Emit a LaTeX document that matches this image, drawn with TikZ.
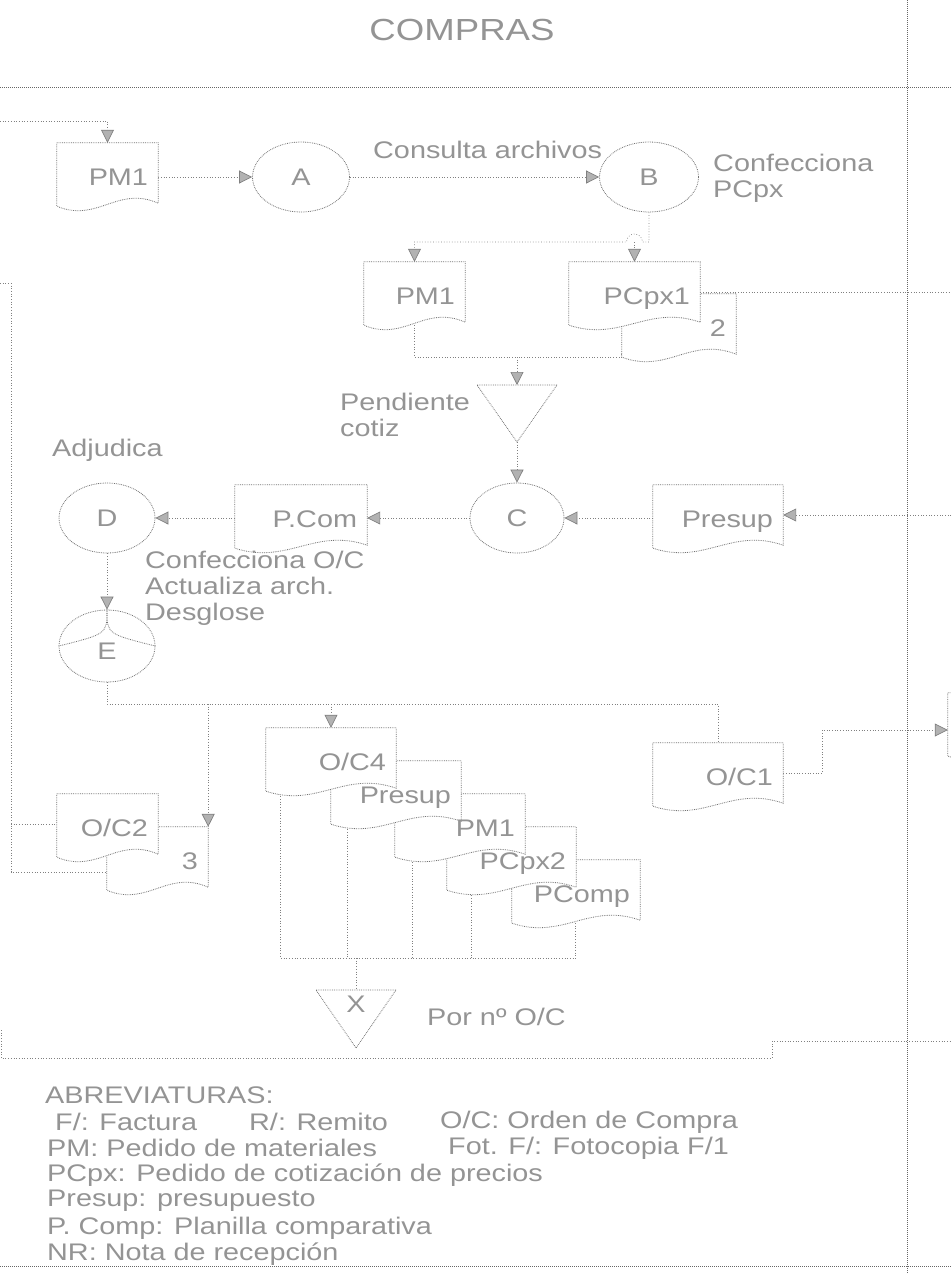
\documentclass[tikz,border=0pt]{standalone}
\usepackage{fontspec}
\setmainfont[FakeStretch=1.2]{Liberation Sans}
\usetikzlibrary{shapes.geometric,arrows.meta,calc}
\pgfdeclarelayer{back}
\pgfdeclarelayer{front}
\pgfsetlayers{back,main,front}
\colorlet{ink}{black!42}
\colorlet{wire}{black!50}
\newcommand\lblfont{\fontsize{24}{26}\selectfont}
\newcommand\sheet[1]{%
  \draw[sheetline] (#1.north west) -- (#1.north east) -- (#1.south east)
    .. controls ($(#1.south east)!0.4!(#1.south west)+(0,-18)$)
    and ($(#1.south east)!0.6!(#1.south west)+(0,20)$) .. ($(#1.south west)+(0,3)$) -- cycle;}

\begin{document}
\begin{tikzpicture}[x=1pt, y=-1pt,
	every node/.style={ text=ink, font=\lblfont },
	doc/.style={ rectangle, inner xsep=10pt, inner ysep=0pt, minimum height=60pt, text width=#1, align=right, text height=25pt, text depth=0pt },
	proc/.style={ ellipse, draw=black!55, densely dotted, line width=0.8pt, fill=white, inner sep=0pt, minimum width=96pt, minimum height=70pt },
	sheetline/.style={ draw=black!55, densely dotted, line width=0.8pt, fill=white },
	link/.style={ draw=wire, dotted, line width=0.7pt },
	arr/.style={ -{Triangle[length=13pt, width=13pt, fill=black!30]} },
	frame/.style={ draw=black!60, densely dotted, line width=1pt },
	lbl/.style={ anchor=west, inner sep=0pt }
]
\useasboundingbox (0,0) rectangle (951,1274);

\begin{pgfonlayer}{front}
% documents
\node[doc=81pt] at (107.5,173) (pm1a) {PM1};
\node[doc=81pt] at (414.5,292) (pm1b) {PM1};
\node[doc=111pt] at (634.5,292) (pcpx1) {PCpx1};
\node[doc=94pt] at (679,324) (cp2) {2};
\node[doc=112pt] at (301,515) (pcom) {P.Com};
\node[doc=110pt] at (718,515) (presup) {Presup};
\node[doc=110pt] at (718,773) (oc1) {O/C1};
\node[doc=81pt] at (107.5,824) (oc2) {O/C2};
\node[doc=81pt] at (157.5,857) (cp3) {3};
\node[doc=110pt] at (331,758) (oc4) {O/C4};
\node[doc=110pt] at (396,791) (cs1) {Presup};
\node[doc=110pt] at (460,824) (cs2) {PM1};
\node[doc=109pt] at (511.5,857) (cs3) {PCpx2};
\node[doc=108pt] at (576,890) (cs4) {PComp};
\node[doc=110pt] at (1013,723) (rdoc) {};

% operations
\node[proc, minimum width=97pt] at (301,177) (A) {A};
\node[proc, minimum width=99pt] at (649,177) (B) {B};
\node[proc, minimum width=94pt] at (517,518) (C) {C};
\node[proc] at (107,518) (D) {D};
\node[proc, minimum height=72pt] at (107,646) (E) {};
\draw[sheetline, fill=none] (E.north) .. controls ($(E.center)+(0,-12)$) .. (E.west);
\draw[sheetline, fill=none] (E.north) .. controls ($(E.center)+(0,-12)$) .. (E.east);
\node at (107,651) (Elbl) {E};

% texts
\node[font=\fontsize{30.5}{34}\selectfont] at (462,30) (title) {COMPRAS};
\node[lbl] at (373,150) (consulta) {Consulta archivos};
\node[lbl, anchor=north west, align=left] at (713,154) (confpc) {Confecciona\\PCpx};
\node[lbl, anchor=north west, align=left] at (340,393) (pendlbl) {Pendiente\\cotiz};
\node[lbl] at (52,450) (adjud) {Adjudica};
\node[lbl, anchor=north west, align=left] at (145,551) (confoc) {Confecciona O/C\\Actualiza arch.\\Desglose};
\node at (356,1004) (xlbl) {X};
\node[lbl] at (427,1017) (pornro) {Por nº O/C};
\node[lbl] at (45,1095) (abrev) {ABREVIATURAS:};
\node[lbl] at (55,1122) (ab1) {F/: Factura};
\node[lbl] at (249,1122) (ab2) {R/: Remito};
\node[lbl] at (440,1122) (ab3) {O/C: Orden de Compra};
\node[lbl] at (47,1148) (ab4) {PM: Pedido de materiales};
\node[lbl] at (448,1148) (ab5) {Fot. F/: Fotocopia F/1};
\node[lbl] at (47,1175) (ab6) {PCpx: Pedido de cotización de precios};
\node[lbl] at (47,1201) (ab7) {Presup: presupuesto};
\node[lbl] at (47,1228) (ab8) {P. Comp: Planilla comparativa};
\node[lbl] at (47,1254) (ab9) {NR: Nota de recepción};
\end{pgfonlayer}

% files (triangles)
\coordinate (pend) at (517,385);
\coordinate (pendtip) at (517,442);
\draw[sheetline, fill=none] ($(pend)+(-40,0)$) -- ($(pend)+(40,0)$) -- (pendtip) -- cycle;
\coordinate (xtop) at (356,990);
\coordinate (xtip) at (356,1048);
\draw[sheetline, fill=none] ($(xtop)+(-40,0)$) -- ($(xtop)+(40,0)$) -- (xtip) -- cycle;

% sheets, back to front
\sheet{cp2} \sheet{pcpx1}
\sheet{pm1a} \sheet{pm1b} \sheet{pcom} \sheet{presup} \sheet{oc1}
\sheet{cp3} \sheet{oc2}
\sheet{cs4} \sheet{cs3} \sheet{cs2} \sheet{cs1} \sheet{oc4}
\begin{scope}
\clip (0,0) rectangle (951,1274);
\sheet{rdoc}
\end{scope}

\begin{pgfonlayer}{back}
\draw[frame] (0,87) -- (951,87);
\draw[frame] (907,0) -- (907,1274);
\draw[frame] (0,1266) -- (951,1266);

\coordinate (inA) at (0,121);
\draw[link, arr] (inA) -| (pm1a.north);
\draw[link, arr] (pm1a.east |- A) -- (A);
\draw[link, arr] (A) -- (B);
\coordinate (jB) at (634.5,242);
\draw[link, arr] (B.south) |- ($(jB)+(8,0)$) arc[start angle=0, end angle=180, radius=8pt] -| (pm1b.north);
\draw[link, arr] (jB) -- (pcpx1.north);
\coordinate (outP) at (951,292);
\draw[link] (pcpx1.east) -- (outP);
\coordinate (jP) at (517,357);
\draw[link] (pm1b.south) |- (jP);
\draw[link] (cp2.south west) |- (jP);
\draw[link, arr] (jP) -- (pend);
\draw[link, arr] (pendtip) -- (C);
\coordinate (inPres) at (951,515);
\draw[link, arr] (inPres) -- (presup);
\draw[link, arr] (presup.west |- C) -- (C);
\draw[link, arr] (C) -- (C -| pcom.east);
\draw[link, arr] (pcom.west |- D) -- (D);
\draw[link, arr] (D) -- (E);

\coordinate (rowE) at (107,704);
\draw[link] (E) -- (rowE) -| (oc1.north);
\draw[link, arr] (rowE -| cp3.north east) -- (cp3.north east);
\draw[link, arr] (rowE -| oc4.north) -- (oc4.north);
\coordinate (jO) at (822,730);
\draw[link, arr] (oc1.east) -| (jO) -- (jO -| rdoc.west);

\coordinate (inL) at (0,283);
\coordinate (jL) at (11,872);
\draw[link] (inL) -| (jL) -- (jL -| cp3.west);
\draw[link] (jL |- oc2.west) -- (oc2.west);

\coordinate (sumL) at (281,958);
\coordinate (sumR) at (576,958);
\draw[link] (sumL) -- (sumR);
\foreach \s/\d in {oc4/15, cs1/17, cs2/18, cs3/25, cs4/64}
	\draw[link] let \p1=(\s.south west), \p2=(sumL) in (\x1+\d,\y1) -- (\x1+\d,\y2);
\draw[link] (sumL -| xtop) -- (xtop);

\coordinate (bl1) at (1,1030);
\coordinate (bstep) at (772,1058);
\coordinate (outB) at (951,1041);
\draw[link] (bl1) |- (bstep) |- (outB);
\end{pgfonlayer}

\end{tikzpicture}
\end{document}
